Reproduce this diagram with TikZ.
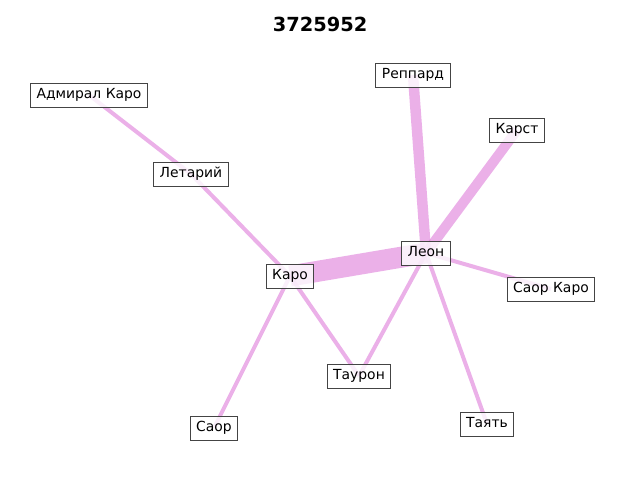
\documentclass[tikz,border=0pt]{standalone}
\usepackage{fontspec}
\setmainfont{DejaVu Sans}
\usetikzlibrary{positioning}
\usetikzlibrary{backgrounds}

\definecolor{edgepink}{RGB}{218,112,214}
\definecolor{boxgray}{RGB}{68,68,68}

\begin{document}
\begin{tikzpicture}[x=1pt,y=-1pt,
		person/.style={draw=boxgray,line width=1pt,fill=white,fill opacity=0.8,text opacity=1,
			inner xsep=6pt,inner ysep=5.5pt,text height=10.3pt,text depth=2.7pt,
			font=\fontsize{13.9}{16}\selectfont},
		link/.style={draw=edgepink,draw opacity=0.55,line width=#1},
		link/.default=4pt]
		\useasboundingbox (0,0) rectangle (640,480);
	%Title
		\node (title) at (320,24) {\fontsize{19.4}{22}\selectfont\bfseries 3725952};
	%People
		\node[person] (admiral) at (89,95) {Адмирал Каро};
		\node[person] (letary) at (191,174) {Летарий};
		\node[person] (reppard) at (413,75) {Реппард};
		\node[person] (karst) at (517,130) {Карст};
		\node[person] (leon) at (426,253) {Леон};
		\node[person] (karo) at (290,276) {Каро};
		\node[person] (saorkaro) at (551,289) {Саор Каро};
		\node[person] (tauron) at (359,376) {Таурон};
		\node[person] (saor) at (214,428) {Саор};
		\node[person] (tayat) at (487,424) {Таять};
	%Links
		\begin{scope}[on background layer]
			\draw[link=21pt] (karo.center) -- (leon.center);
			\draw[link=10.5pt] (leon.center) -- (reppard.center);
			\draw[link=10pt] (leon.center) -- (karst.center);
			\draw[link] (admiral.center) -- (letary.center);
			\foreach \a/\b in {letary/karo,karo/tauron,karo/saor,leon/saorkaro,leon/tauron,leon/tayat}
			{
				\draw[link] (\a.center) -- (\b.center);
			}
		\end{scope}
\end{tikzpicture}
\end{document}
